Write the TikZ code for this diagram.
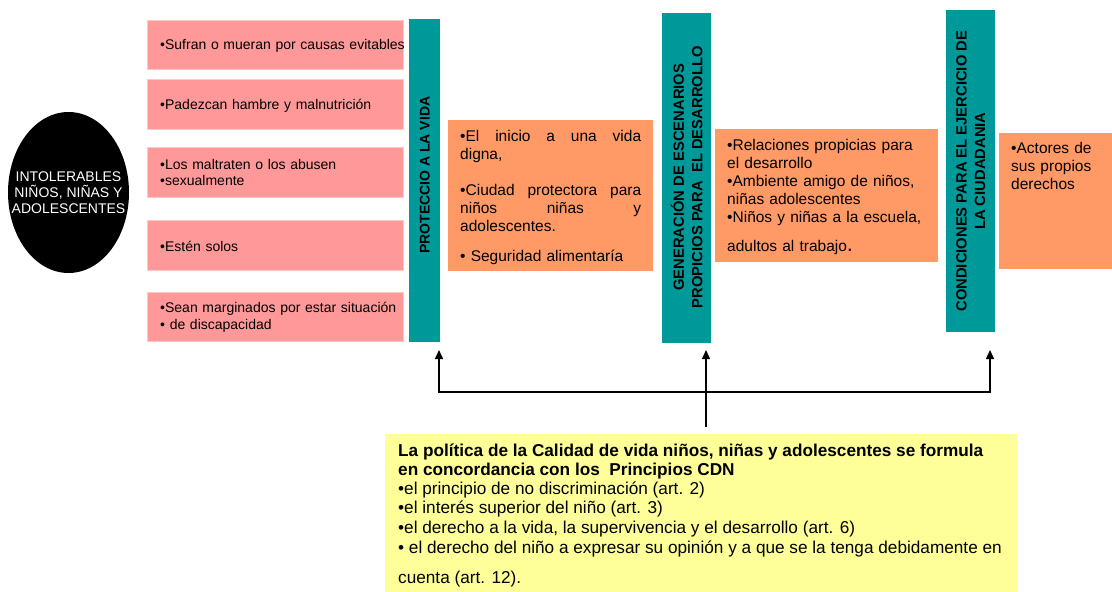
\documentclass[tikz,border=0pt]{standalone}
\usepackage{fontspec}
\setmainfont{Liberation Sans}
\usetikzlibrary{shapes.geometric,arrows.meta}
\definecolor{pinkc}{HTML}{FF9999}
\definecolor{tealc}{HTML}{009999}
\definecolor{orangec}{HTML}{FF9966}
\definecolor{yellowc}{HTML}{FFFF99}
\newcommand{\jline}[1]{\leavevmode\hbox to 181pt{#1}}
\tikzset{
  pinkbox/.style={fill=pinkc, draw=pinkc!55!white, line width=0.8pt, minimum width=256pt, minimum height=49.5pt, anchor=north west, inner sep=0pt},
  pinktext/.style={anchor=west, inner sep=0pt, text width=245pt, align=left, font=\fontsize{14}{16.5}\selectfont},
  barbox/.style={fill=tealc, draw=none, anchor=north west, inner sep=0pt},
  bartext/.style={rotate=90, inner sep=0pt, align=center, font=\bfseries\fontsize{14}{18}\selectfont},
  orangebox/.style={fill=orangec, draw=none, anchor=north west, inner sep=0pt},
  orangetext/.style={anchor=north west, inner sep=0pt, align=left, font=\fontsize{15.5}{18}\selectfont},
  conn/.style={line width=1.5pt, black},
  tip/.style={-{Triangle[length=9pt,width=8pt]}},
}
\begin{document}
\begin{tikzpicture}[x=1pt,y=-1pt]
\useasboundingbox (0,0) rectangle (1112,592);
% ellipse
\node[ellipse, fill=black, minimum width=121pt, minimum height=161pt, inner sep=0pt] (ell) at (68.5,192.5) {};
\node[inner sep=0pt, text=white, align=center, font=\fontsize{14}{16}\selectfont] (ellt) at (ell.center) {INTOLERABLES\\NIÑOS, NIÑAS Y\\ADOLESCENTES};
% pink boxes
\node[pinkbox] (p1) at (147,19.5) {};
\node[pinkbox] (p2) at (147,79) {};
\node[pinkbox] (p3) at (147,147) {};
\node[pinkbox] (p4) at (147,220) {};
\node[pinkbox] (p5) at (147,291.5) {};
\node[pinktext] (pt1) at ([xshift=13pt,yshift=-1.5pt]p1.west) {•Sufran o mueran por causas evitables};
\node[pinktext] (pt2) at ([xshift=13pt,yshift=-1.5pt]p2.west) {•Padezcan hambre y malnutrición};
\node[pinktext] (pt3) at ([xshift=13pt,yshift=-0.5pt]p3.west) {•Los maltraten o los abusen\\•sexualmente};
\node[pinktext] (pt4) at ([xshift=13pt,yshift=-1pt]p4.west) {•Estén solos};
\node[pinktext] (pt5) at ([xshift=13pt,yshift=-0.5pt]p5.west) {•Sean marginados por estar situación\\• de discapacidad};
% teal bars
\node[barbox, minimum width=31pt, minimum height=323pt] (b1) at (409,19) {};
\node[bartext] (bt1) at ([yshift=5.5pt]b1.center) {PROTECCIO A LA VIDA};
\node[barbox, minimum width=49pt, minimum height=330pt] (b2) at (662,13) {};
\node[bartext, font=\bfseries\fontsize{14.8}{18.5}\selectfont] (bt2) at ([yshift=1pt]b2.center) {GENERACIÓN DE ESCENARIOS\\PROPICIOS PARA \ EL DESARROLLO};
\node[barbox, minimum width=49pt, minimum height=322pt] (b3) at (946,10) {};
\node[bartext, font=\bfseries\fontsize{14.8}{18.5}\selectfont] (bt3) at (b3.center) {CONDICIONES PARA EL EJERCICIO DE\\LA CIUDADANIA};
% orange boxes
\node[orangebox, minimum width=205pt, minimum height=151pt] (o1) at (448,120) {};
\node[orangetext, text width=181pt] (ot1) at (460,130) {%
\jline{•El\hfill inicio\hfill a\hfill una\hfill vida}\\
digna,\\[18pt]
\jline{•Ciudad\hfill protectora\hfill para}\\
\jline{niños\hfill niñas\hfill y}\\
adolescentes.\\[12pt]
• Seguridad alimentaría};
\node[orangebox, minimum width=223pt, minimum height=133pt] (o2) at (715,129) {};
\node[orangetext, text width=205pt] (ot2) at (727,139) {%
•Relaciones propicias para\\
el desarrollo\\
•Ambiente amigo de niños,\\
niñas adolescentes\\
•Niños y niñas a la escuela,\\[11pt]
adultos al trabajo{\fontsize{22}{18}\selectfont .}};
\node[orangebox, minimum width=113pt, minimum height=136pt] (o3) at (999,133) {};
\node[orangetext, text width=95pt] (ot3) at (1011,142) {%
•Actores de\\
sus propios\\
derechos};
% yellow box
\node[fill=yellowc, draw=none, anchor=north west, inner sep=0pt, minimum width=632pt, minimum height=158pt] (y) at (385,434) {};
\node[anchor=north west, inner sep=0pt, align=left, font=\fontsize{17.2}{19.3}\selectfont] (yt) at (398,444) {%
\textbf{La política de la Calidad de vida niños, niñas y adolescentes se formula}\\[-1pt]
\textbf{en concordancia con los \ Principios CDN}\\
•el principio de no discriminación (art. 2)\\
•el interés superior del niño (art. 3)\\
•el derecho a la vida, la supervivencia y el desarrollo (art. 6)\\[1pt]
• el derecho del niño a expresar su opinión y a que se la tenga debidamente en\\[11pt]
cuenta (art. 12).};
% connectors
\coordinate (src) at (706,427);
\coordinate (tM) at (706,350);
\coordinate (tL) at (439,350);
\coordinate (tR) at (990,350);
\coordinate (jL) at (439,392);
\coordinate (jR) at (990,392);
\draw[conn, tip] (src) -- (tM);
\draw[conn, {Triangle[length=9pt,width=8pt]}-{Triangle[length=9pt,width=8pt]}] (tL) -- (jL) -- (jR) -- (tR);
\end{tikzpicture}
\end{document}
